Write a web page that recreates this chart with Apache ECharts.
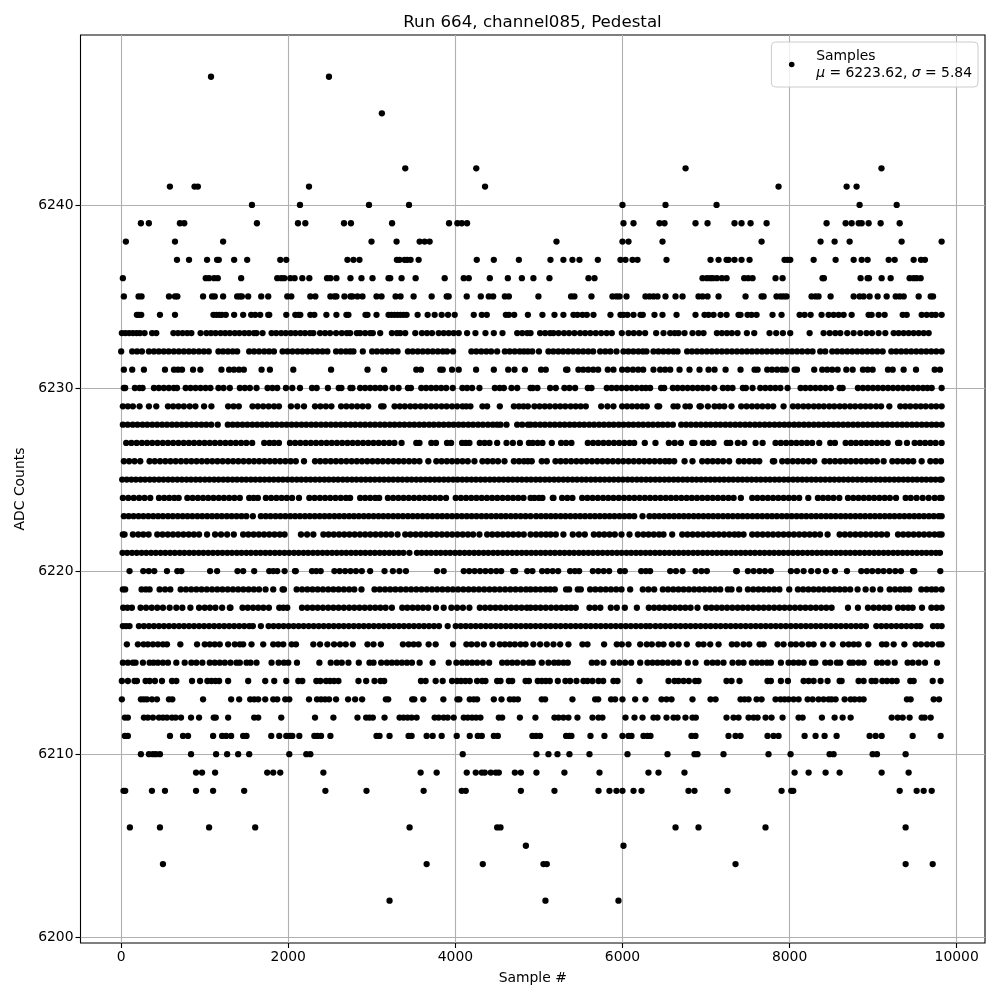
<!DOCTYPE html>
<html><head><meta charset="utf-8">
<script src="https://cdn.jsdelivr.net/npm/echarts@6/dist/echarts.min.js"></script>
<style>html,body{margin:0;padding:0;background:#fff}#c{width:1000px;height:1000px}</style>
</head><body><div id="c"></div>
<script>
const xTicks=[0,2000,4000,6000,8000,10000];
const yTicks=[6200,6210,6220,6230,6240];
const y6247=[1075,2487];
const y6245=[3120];
const y6242=[3400,4250,6755,9100];
const y6241=[583,878,918,2248,4355,7868,8683,8802];
const y6240=[1565,2140,2966,3445,6000,6515,7126,8838,9282];
const y6239=[236,331,703,755,1625,2116,2204,2667,2750,3242,3924,4024,4076,4140,6012,6132,6443,6503,6874,7018,7341,7425,7533,7725,8443,8671,8743,8827,8863,8946,9090,9318];
const y6238=[56,644,1220,2996,3296,3572,3632,3692,5210,6000,6072,6479,7665,8371,8539,8719,9341,9820];
const y6237=[668,812,1028,1148,1168,1352,1508,1904,1976,2708,2780,2852,3300,3332,3392,3424,3464,3560,4256,4460,4760,5138,5293,5401,5485,5705,5976,6036,6120,6180,6527,7054,7150,7246,7270,7341,7425,7521,7940,7976,8008,8288,8551,8767,8863,8934,9186,9258,9485,9573,9620];
const y6236=[20,1012,1052,1112,1156,1436,1868,1916,1952,2024,2076,2168,2252,2464,2504,2576,2744,2876,3008,3200,3220,3356,3524,3872,4100,4160,4412,4628,4796,4934,5126,5593,5665,6958,7010,7050,7082,7130,7190,7246,7457,7505,7557,7832,7916,8395,8411,8850,8934,8950,9102,9210,9437,9485,9521,9569];
const y6235=[32,208,244,572,644,672,980,1088,1120,1220,1388,1420,1444,1520,1676,1760,1988,2036,2264,2324,2504,2552,2576,2672,2744,2768,2828,2888,3056,3116,3284,3344,3500,3716,3896,3920,4136,4304,4400,4452,4592,4640,4994,5385,5425,5629,5880,5928,5964,6048,6275,6323,6371,6419,6515,6635,6719,6910,6958,7018,7150,7473,7665,7689,7844,7892,7928,7964,8263,8311,8347,8491,8767,8838,8886,8958,9054,9162,9270,9318,9366,9545,9689,9717];
const y6234=[188,212,240,464,644,1104,1140,1172,1204,1252,1352,1460,1556,1604,1664,1760,1772,1976,2084,2120,2144,2264,2312,2456,2576,2696,2720,2924,2948,3056,3200,3236,3272,3308,3344,3380,3416,3548,3668,3752,3836,3912,3992,4220,4316,4376,4604,4640,4704,4868,5042,5186,5293,5413,5461,5521,5573,5653,5856,5976,6012,6060,6132,6216,6243,6383,6479,6647,6874,6982,7030,7090,7174,7246,7389,7413,7497,7545,7605,7796,7904,8120,8180,8252,8383,8467,8527,8587,8647,8743,8946,8982,9066,9138,9354,9402,9581,9641,9701,9749,9820];
const y6233=[8,50,95,140,185,225,280,370,420,625,680,735,790,840,950,1020,1075,1130,1190,1245,1300,1360,1415,1475,1530,1590,1620,1692,1800,1855,1915,1970,2030,2085,2145,2200,2260,2300,2380,2440,2500,2572,2640,2700,2740,2820,2860,2920,2980,3012,3100,3240,3300,3340,3400,3520,3600,3660,3720,3800,3860,3920,3980,4040,4140,4240,4360,4460,4564,4740,4800,4860,4900,5014,5074,5134,5174,5235,5300,5360,5425,5493,5553,5615,5680,5745,5810,5872,5992,6072,6135,6200,6271,6403,6491,6571,6625,6671,6743,6838,6910,6970,7130,7190,7250,7309,7377,7489,7577,7760,7840,7920,8008,8240,8407,8480,8547,8607,8690,8767,8846,8920,8986,9066,9146,9246,9305,9365,9425,9485,9545,9605,9665];
const y6232=[0,132,190,248,332,392,450,510,568,630,690,750,810,868,930,990,1048,1164,1220,1278,1335,1388,1532,1590,1650,1712,1770,1828,1932,1990,2050,2112,2170,2230,2290,2350,2410,2468,2572,2630,2690,2740,2780,2892,3004,3062,3125,3185,3245,3308,3432,3490,3550,3610,3670,3730,3790,3850,3900,3972,4192,4250,4310,4370,4428,4500,4592,4650,4710,4770,4820,4868,4920,5000,5114,5172,5232,5290,5350,5410,5470,5530,5590,5649,5733,5795,5855,5928,6012,6070,6130,6190,6245,6287,6371,6430,6490,6550,6610,6659,6774,6832,6892,6950,7010,7070,7130,7190,7250,7310,7370,7430,7490,7550,7610,7670,7730,7790,7850,7910,7970,8030,8090,8150,8215,8275,8367,8427,8511,8570,8630,8690,8750,8810,8870,8930,8990,9050,9114,9218,9276,9336,9396,9456,9516,9576,9636,9696,9756,9820];
const y6231=[32,132,272,524,632,680,728,860,948,1200,1292,1350,1410,1468,1680,1780,2060,2512,2948,3148,3532,3588,3820,3848,3960,4040,4248,4460,4632,4708,4832,5026,5082,5325,5341,5473,5530,5590,5650,5709,5824,5892,5996,6060,6125,6188,6248,6371,6451,6510,6571,6683,6802,6922,7030,7102,7234,7413,7581,7617,7733,7790,7850,7910,7956,8060,8088,8295,8391,8450,8510,8575,8679,8755,8878,8935,8994,9178,9234,9365,9513,9737,9800];
const y6230=[32,48,164,220,256,392,450,510,570,630,668,772,830,890,950,1010,1068,1164,1225,1300,1420,1480,1540,1620,1752,1810,1868,1972,2048,2140,2284,2340,2474,2604,2636,2744,2768,2860,2920,2980,3040,3100,3160,3248,3320,3432,3468,3592,3650,3710,3770,3830,3890,3968,4084,4140,4200,4288,4472,4530,4580,4672,4740,4900,4926,4982,5134,5202,5305,5365,5433,5585,5629,5812,5870,5930,5990,6050,6110,6170,6231,6280,6331,6463,6499,6603,6660,6720,6780,6840,6900,6960,7020,7098,7202,7260,7317,7441,7477,7557,7649,7710,7770,7830,7890,7976,8132,8190,8250,8310,8370,8431,8495,8599,8635,8818,8878,8938,8998,9058,9118,9178,9238,9298,9358,9418,9478,9538,9598,9650,9701,9820];
const y6229=[20,80,140,220,332,420,560,622,685,750,820,888,992,1080,1280,1345,1408,1572,1635,1700,1765,1830,1888,2032,2108,2188,2320,2385,2450,2516,2632,2695,2760,2825,2890,2956,3112,3140,3272,3335,3395,3460,3520,3585,3645,3710,3770,3835,3895,3960,4020,4085,4130,4180,4324,4380,4532,4700,4760,4815,4868,4946,5008,5070,5130,5195,5255,5315,5380,5440,5500,5561,5745,5820,5892,5996,6055,6115,6175,6235,6291,6419,6439,6611,6659,6754,6806,6922,6938,7022,7102,7160,7218,7305,7421,7485,7550,7612,7675,7740,7804,7928,8040,8100,8165,8225,8290,8350,8410,8475,8535,8600,8660,8725,8785,8850,8910,8970,9035,9095,9194,9325,9385,9445,9510,9570,9630,9695,9755,9820];
const y6228=[20,78,138,195,255,312,372,430,490,548,608,665,725,782,842,900,960,1018,1078,1156,1276,1335,1392,1452,1510,1570,1628,1688,1745,1805,1862,1922,1980,2040,2098,2158,2215,2275,2332,2392,2450,2510,2568,2628,2685,2745,2802,2862,2920,2980,3038,3098,3155,3215,3272,3332,3390,3450,3508,3568,3625,3685,3742,3802,3860,3920,3978,4038,4095,4155,4212,4272,4330,4390,4448,4500,4540,4612,4740,4800,4868,4900,4955,5015,5072,5132,5190,5250,5308,5368,5425,5485,5542,5602,5660,5720,5778,5838,5895,5955,6012,6072,6130,6190,6248,6308,6365,6425,6482,6542,6603,6703,6762,6820,6880,6938,6998,7055,7115,7172,7232,7290,7350,7408,7468,7525,7585,7642,7702,7760,7820,7878,7938,7995,8055,8112,8172,8230,8290,8348,8408,8465,8525,8582,8642,8700,8760,8818,8878,8935,8995,9052,9112,9170,9230,9288,9348,9405,9465,9522,9582,9640,9700,9758,9820];
const y6227=[60,122,185,248,310,372,435,498,560,622,685,748,810,872,935,998,1060,1122,1185,1248,1310,1372,1435,1498,1568,1712,1775,1830,1888,2020,2082,2145,2208,2270,2332,2395,2458,2520,2582,2645,2708,2770,2832,2895,2958,3020,3082,3145,3208,3270,3356,3532,3570,3712,3768,3900,3948,4080,4125,4168,4292,4350,4408,4500,4612,4688,4772,4880,4926,4985,5042,5154,5265,5325,5389,5585,5648,5710,5772,5835,5898,5960,6022,6085,6140,6267,6395,6555,6625,6699,6834,6860,6962,7025,7090,7249,7290,7381,7457,7593,7677,7832,7895,7958,8020,8082,8145,8208,8270,8355,8487,8543,8671,8735,8795,8858,8920,8982,9045,9108,9174,9298,9314,9405,9497,9560,9622,9685,9748,9820];
const y6226=[32,95,160,228,340,402,465,528,590,652,715,778,840,902,965,1028,1090,1152,1215,1278,1340,1402,1465,1528,1590,1652,1715,1778,1840,1902,1965,2028,2090,2188,2320,2382,2445,2508,2570,2632,2695,2758,2820,2882,2945,3008,3070,3132,3195,3258,3320,3382,3445,3508,3570,3676,3772,3835,3898,3960,4022,4085,4148,4228,4324,4385,4448,4510,4588,4700,4762,4820,4868,4914,5034,5094,5198,5260,5322,5385,5448,5510,5572,5635,5698,5760,5822,5885,5948,6010,6072,6135,6198,6260,6322,6385,6448,6510,6560,6619,6743,6838,6954,7018,7080,7142,7205,7277,7393,7455,7518,7580,7637,7800,7816,7912,7975,8038,8100,8162,8225,8295,8419,8482,8545,8608,8670,8732,8795,8858,8920,8982,9045,9126,9230,9292,9355,9418,9480,9581,9685,9750,9812];
const y6225=[12,66,122,176,232,286,342,396,452,506,562,616,672,726,782,836,892,946,1002,1056,1112,1166,1222,1276,1332,1386,1442,1496,1552,1606,1662,1716,1772,1826,1882,1936,1992,2046,2102,2156,2212,2266,2322,2376,2432,2486,2542,2596,2652,2706,2762,2816,2872,2926,2982,3036,3092,3146,3202,3256,3312,3366,3422,3476,3532,3586,3642,3696,3752,3806,3862,3916,3972,4026,4082,4136,4192,4246,4302,4356,4412,4466,4522,4576,4632,4686,4742,4796,4852,4906,4962,5016,5072,5126,5182,5236,5292,5346,5402,5456,5512,5566,5622,5676,5732,5786,5842,5896,5952,6006,6062,6116,6172,6226,6282,6336,6392,6446,6502,6556,6612,6666,6722,6776,6832,6886,6942,6996,7052,7106,7162,7216,7272,7326,7382,7436,7492,7546,7602,7656,7712,7766,7822,7876,7932,7986,8042,8096,8152,8206,8262,8316,8372,8426,8482,8536,8592,8646,8702,8756,8812,8866,8922,8976,9032,9086,9142,9196,9252,9306,9362,9416,9472,9526,9582,9636,9692,9746,9800,9820];
const y6224=[20,85,150,215,280,348,452,515,575,635,688,792,855,918,980,1042,1105,1168,1230,1292,1355,1420,1532,1585,1636,1732,1795,1858,1920,1982,2045,2128,2252,2315,2378,2440,2502,2565,2628,2690,2740,2860,2920,2980,3040,3088,3192,3255,3318,3380,3442,3505,3568,3630,3692,3755,3818,3888,4004,4066,4128,4190,4252,4315,4378,4440,4502,4565,4628,4690,4752,4815,4900,4946,5000,5042,5166,5174,5277,5340,5401,5517,5580,5642,5705,5768,5830,5892,5955,6018,6080,6142,6205,6268,6330,6392,6455,6518,6580,6642,6705,6768,6830,6892,6955,7018,7080,7142,7205,7268,7330,7417,7553,7615,7678,7740,7802,7865,7928,7990,8052,8115,8224,8339,8400,8462,8525,8595,8699,8762,8825,8888,8950,9012,9075,9138,9200,9274,9389,9450,9520,9593,9665,9737,9800,9820];
const y6223=[32,90,148,208,266,325,384,442,500,560,618,677,736,794,852,912,970,1029,1088,1146,1204,1264,1322,1381,1440,1498,1576,1672,1730,1788,1848,1906,1965,2024,2082,2140,2200,2258,2317,2376,2434,2492,2552,2610,2669,2728,2786,2844,2904,2962,3021,3080,3138,3196,3256,3314,3373,3432,3490,3548,3608,3666,3725,3784,3842,3900,3960,4018,4077,4136,4194,4252,4312,4370,4429,4488,4546,4604,4664,4722,4781,4840,4900,4966,5025,5084,5142,5200,5260,5318,5377,5436,5494,5552,5612,5670,5729,5788,5846,5904,5964,6022,6081,6140,6240,6323,6382,6440,6500,6558,6617,6676,6734,6792,6852,6910,6969,7028,7086,7144,7204,7262,7321,7380,7438,7496,7556,7614,7673,7732,7790,7848,7908,7966,8025,8084,8142,8200,8260,8318,8377,8436,8494,8552,8612,8670,8729,8788,8846,8904,8964,9022,9081,9140,9198,9256,9316,9374,9433,9492,9550,9608,9668,9726,9785,9820];
const y6222=[20,40,140,205,265,328,432,495,558,620,682,745,808,870,932,1028,1124,1195,1268,1348,1460,1522,1585,1648,1710,1772,1835,1898,1956,2152,2225,2300,2420,2482,2545,2608,2670,2732,2795,2858,2920,2982,3045,3108,3170,3232,3308,3400,3462,3525,3588,3650,3712,3775,3838,3900,3962,4025,4088,4150,4212,4288,4380,4442,4505,4568,4630,4692,4755,4818,4900,4965,5025,5085,5140,5202,5293,5405,5478,5549,5657,5720,5782,5845,5908,5988,6084,6184,6250,6312,6375,6438,6491,6595,6715,6778,6840,6902,6965,7028,7090,7152,7215,7278,7340,7390,7449,7553,7615,7678,7740,7802,7865,7928,7990,8052,8115,8178,8240,8302,8365,8455,8599,8662,8725,8788,8850,8912,8975,9038,9100,9166,9298,9360,9422,9485,9548,9610,9672,9735,9790,9820];
const y6221=[16,72,130,186,244,300,358,414,472,528,586,642,700,756,814,870,928,984,1042,1098,1156,1212,1270,1326,1384,1440,1498,1554,1612,1668,1726,1782,1840,1896,1954,2010,2068,2124,2182,2238,2296,2352,2410,2466,2524,2580,2638,2694,2752,2808,2866,2922,2980,3036,3094,3150,3208,3264,3322,3378,3450,3540,3596,3654,3710,3768,3824,3882,3938,3996,4052,4110,4166,4224,4280,4338,4394,4452,4508,4566,4622,4680,4736,4794,4850,4908,4964,5022,5078,5136,5192,5250,5306,5364,5420,5478,5534,5592,5648,5706,5762,5820,5876,5934,5990,6048,6104,6162,6218,6276,6332,6390,6446,6504,6560,6618,6674,6732,6788,6846,6902,6960,7016,7074,7130,7188,7244,7302,7358,7416,7472,7530,7586,7644,7700,7758,7814,7872,7928,7986,8042,8100,8156,8214,8270,8328,8384,8442,8498,8556,8612,8670,8726,8784,8840,8898,8954,9012,9068,9126,9182,9240,9296,9354,9410,9468,9524,9582,9638,9696,9752,9800];
const y6220=[100,264,330,396,548,672,720,1064,1148,1392,1460,1592,1772,1820,1868,1956,2080,2090,2284,2335,2388,2552,2615,2680,2745,2810,2880,2980,3152,3252,3330,3408,3780,3860,4100,4165,4230,4295,4360,4425,4490,4548,4692,4716,4860,4922,5038,5100,5165,5230,5373,5430,5481,5645,5710,5775,5840,5972,6028,6224,6280,6331,6571,6640,6719,6874,6945,7010,7361,7369,7501,7570,7640,7705,7776,8016,8088,8168,8259,8340,8435,8543,8687,8858,8925,8990,9060,9125,9195,9265,9333,9477,9493,9804];
const y6219=[20,48,244,295,340,460,525,588,712,775,838,900,962,1025,1088,1150,1212,1275,1338,1400,1462,1525,1588,1650,1728,1820,1932,1948,2100,2165,2228,2290,2352,2415,2478,2540,2602,2665,2728,2790,2876,3032,3095,3158,3220,3282,3345,3408,3470,3532,3595,3658,3720,3782,3845,3908,3970,4032,4095,4158,4220,4282,4345,4408,4470,4532,4595,4658,4720,4782,4845,4900,4960,5020,5080,5135,5190,5325,5361,5465,5501,5613,5675,5738,5800,5862,5925,5988,6092,6243,6310,6379,6483,6545,6608,6670,6732,6795,6858,6920,6982,7045,7108,7170,7261,7305,7397,7501,7565,7628,7690,7752,7815,7878,7996,8100,8162,8225,8288,8350,8412,8475,8538,8600,8662,8725,8814,8910,8995,9086,9198,9262,9325,9380,9433,9577,9640,9700,9752,9820];
const y6218=[24,75,128,232,298,365,432,500,580,660,732,828,932,1000,1062,1128,1208,1300,1308,1452,1515,1578,1640,1702,1768,1892,1940,1988,2164,2228,2290,2352,2415,2478,2540,2602,2665,2728,2790,2852,2915,2978,3040,3102,3165,3240,3364,3425,3488,3550,3612,3675,3768,3860,3952,4020,4090,4168,4292,4355,4418,4480,4542,4605,4668,4730,4792,4855,4900,4960,5020,5082,5145,5208,5270,5330,5385,5441,5605,5670,5735,5860,5932,6028,6172,6315,6378,6440,6502,6565,6628,6690,6752,6815,6898,7002,7065,7128,7190,7252,7315,7378,7440,7502,7565,7628,7690,7752,7815,7878,7940,8002,8065,8128,8190,8252,8315,8378,8440,8503,8699,8818,8938,9005,9070,9135,9194,9298,9360,9420,9473,9585,9697,9760,9820];
const y6217=[20,60,100,212,272,332,392,452,512,572,632,692,752,812,872,932,992,1052,1112,1172,1232,1292,1352,1412,1472,1532,1576,1672,1764,1824,1884,1944,2004,2064,2124,2184,2244,2304,2364,2424,2484,2544,2604,2664,2724,2784,2844,2904,2964,3024,3084,3144,3204,3264,3324,3384,3444,3504,3564,3624,3684,3744,3804,3908,4004,4064,4124,4184,4244,4304,4364,4424,4484,4544,4604,4664,4724,4784,4844,4900,4960,5020,5080,5140,5200,5260,5320,5380,5440,5500,5560,5620,5680,5740,5800,5860,5920,5980,6040,6100,6160,6220,6280,6331,6395,6455,6515,6575,6635,6695,6755,6815,6875,6935,6995,7055,7115,7175,7235,7295,7355,7415,7475,7535,7595,7655,7715,7775,7835,7895,7955,8015,8075,8135,8195,8255,8315,8375,8435,8495,8555,8615,8675,8735,8795,8855,8914,9038,9098,9158,9218,9278,9338,9398,9458,9518,9565,9717,9770,9820];
const y6216=[68,200,268,320,380,440,500,548,708,908,1000,1060,1120,1180,1280,1360,1420,1460,1560,1700,1820,1880,1940,2040,2092,2300,2380,2468,2548,2620,2688,2772,2948,3020,3108,3372,3440,3500,3560,3680,3764,3972,4132,4192,4260,4340,4444,4532,4592,4652,4712,4780,4840,4934,5014,5094,5174,5254,5353,5521,5581,5780,5932,5992,6072,6212,6291,6351,6431,6491,6591,6671,6770,6910,6970,7050,7150,7309,7369,7449,7517,7641,7689,7856,7928,8016,8076,8148,8228,8288,8403,8515,8639,8707,8767,8826,8942,9106,9158,9246,9374,9509,9573,9645,9709,9785,9820];
const y6215=[20,80,140,172,260,340,388,440,500,560,660,760,840,900,972,1060,1120,1180,1240,1308,1380,1420,1500,1548,1620,1800,1884,1948,2000,2104,2372,2508,2580,2640,2720,2844,2972,3020,3112,3180,3240,3300,3360,3420,3480,3572,3728,3920,4012,4080,4140,4200,4260,4328,4404,4560,4620,4680,4740,4812,4880,4926,5034,5114,5182,5234,5293,5345,5633,5693,5772,5892,5964,6032,6104,6212,6299,6359,6419,6479,6543,6611,6675,6782,6874,7010,7078,7138,7209,7317,7389,7449,7549,7609,7669,7729,7776,7896,7988,8048,8108,8168,8268,8308,8427,8487,8567,8607,8719,8759,8826,8886,9046,9106,9174,9258,9413,9473,9545,9621,9765];
const y6214=[8,80,160,188,292,340,404,488,608,660,848,944,1032,1080,1128,1172,1280,1520,1724,1832,1976,2120,2168,2336,2384,2452,2500,2548,2600,2840,2932,3032,3104,3148,3588,3644,3764,3848,3960,4020,4068,4120,4172,4260,4320,4360,4500,4540,4640,4680,4840,4880,4986,5034,5082,5130,5226,5317,5373,5449,5533,5581,5641,5713,5769,5892,5940,6204,6551,6623,6671,6731,6794,6870,6910,7245,7305,7401,7736,7776,7896,7980,8168,8228,8288,8371,8455,8599,8623,8826,8886,8982,9030,9110,9166,9226,9282,9445,9485,9713,9808];
const y6213=[8,236,272,308,368,428,572,612,980,1316,1412,1544,1592,1640,1724,1820,1868,1964,2012,2248,2344,2392,2440,2488,2572,2716,2800,2884,3168,3196,3484,3508,3616,3856,4024,4048,4172,4220,4260,4460,4552,4652,4700,4748,5034,5074,5401,5673,5709,5864,5912,6000,6152,6275,6467,6527,6587,6838,7054,7114,7413,7461,7509,7605,7665,7832,7892,7940,7988,8048,8108,8216,8276,8347,8407,8467,8503,8551,8659,8731,8779,8838,8886,9405,9449,9725,9789];
const y6212=[44,80,272,320,380,452,500,548,608,652,716,836,932,1108,1132,1280,1592,1640,1916,2320,2540,2828,2932,2972,3012,3152,3332,3380,3428,3476,3536,3752,3800,3860,3908,3980,4100,4148,4200,4248,4300,4520,4560,4772,4958,5186,5234,5293,5353,5461,5641,5713,5760,6036,6144,6240,6371,6419,6527,6611,6659,6754,6838,6878,7245,7329,7389,7509,7569,7617,7713,7784,7916,8108,8156,8387,8539,8635,8731,9222,9294,9354,9437,9581,9617,9689];
const y6211=[44,80,584,740,800,1100,1208,1256,1316,1460,1500,1796,1892,1976,2024,2048,2132,2312,2348,2392,2504,3056,3092,3212,3440,3476,3656,3728,3836,4016,4172,4268,4316,4460,4508,4922,4966,5014,5325,5365,5389,5617,5784,6000,6072,6108,6251,6299,6335,6826,6874,7269,7353,7413,7736,7808,7868,8180,8311,8419,8563,8958,9030,9102,9473,9808];
const y6210=[236,332,380,416,464,836,1136,1268,1400,1532,2012,2216,2264,4088,4970,5114,5222,5365,5605,6060,6539,6862,6898,7209,7748,8012,8479,8527,8994,9046,9389];
const y6209=[896,968,1124,1748,1820,1904,2420,3584,3776,4136,4244,4316,4352,4424,4484,4520,4712,4784,4970,5305,5725,6311,6431,6742,8060,8228,8431,8599,9102,9425];
const y6208=[28,48,368,524,896,1100,1472,2444,2936,3620,4076,4124,4784,5186,5713,5844,5928,6000,6132,6228,6790,6862,7257,7904,8020,8044,9318,9521,9605,9701];
const y6206=[104,464,1052,1604,3452,4500,4540,6635,6910,7712,9389];
const y6205=[4844,6012];
const y6204=[500,3656,4328,5054,5094,7353,9389,9713];
const y6202=[3212,5078,5952];

const rows=[[6247,y6247],[6245,y6245],[6242,y6242],[6241,y6241],[6240,y6240],[6239,y6239],[6238,y6238],[6237,y6237],[6236,y6236],[6235,y6235],[6234,y6234],[6233,y6233],[6232,y6232],[6231,y6231],[6230,y6230],[6229,y6229],[6228,y6228],[6227,y6227],[6226,y6226],[6225,y6225],[6224,y6224],[6223,y6223],[6222,y6222],[6221,y6221],[6220,y6220],[6219,y6219],[6218,y6218],[6217,y6217],[6216,y6216],[6215,y6215],[6214,y6214],[6213,y6213],[6212,y6212],[6211,y6211],[6210,y6210],[6209,y6209],[6208,y6208],[6206,y6206],[6205,y6205],[6204,y6204],[6202,y6202]];
const points=[];
rows.forEach(([v,xs])=>xs.forEach(x=>points.push([x,v])));

const FF='"DejaVu Sans"';
const chart=echarts.init(document.getElementById('c'),null,{renderer:'canvas'});
const axisCommon={
  axisLine:{show:false,onZero:false},
  splitLine:{show:true,lineStyle:{color:'#b0b0b0',width:1.1}},
  nameLocation:'middle',
  nameTextStyle:{fontFamily:FF,fontSize:13.9,color:'#000'}
};
const tickStyle={show:true,length:5,inside:false,lineStyle:{color:'#000',width:1.1}};
const labelStyle={fontFamily:FF,fontSize:13.9,color:'#000',margin:7,formatter:v=>String(v)};
chart.setOption({
  animation:false,
  backgroundColor:'#fff',
  title:{text:'Run 664, channel085, Pedestal',left:527.5,top:9,textAlign:'center',
    textStyle:{fontFamily:FF,fontSize:16.67,fontWeight:'normal',color:'#000'}},
  grid:{left:80.5,top:35,width:904.5,height:908,show:true,borderColor:'#000',borderWidth:1.1,backgroundColor:'transparent',containLabel:false},
  xAxis:Object.assign({},axisCommon,{type:'value',min:-487,max:10339,name:'Sample #',nameGap:28,
    axisTick:Object.assign({},tickStyle,{customValues:xTicks}),
    axisLabel:Object.assign({},labelStyle,{customValues:xTicks})}),
  yAxis:Object.assign({},axisCommon,{type:'value',min:6199.69,max:6249.28,name:'ADC Counts',nameGap:52,
    axisTick:Object.assign({},tickStyle,{customValues:yTicks}),
    axisLabel:Object.assign({},labelStyle,{customValues:yTicks})}),
  legend:{show:true,right:22,top:42,orient:'vertical',padding:[5.5,6,5.5,17.5],
    backgroundColor:'rgba(255,255,255,0.8)',borderColor:'#cccccc',borderWidth:1,borderRadius:4,
    itemWidth:28,itemHeight:5.6,itemGap:0,icon:'circle',
    data:[{name:'Samples',itemStyle:{color:'#000'}}],
    formatter:()=>'Samples\n{i|\u03bc} = 6223.62, {i|\u03c3} = 5.84',
    textStyle:{fontFamily:FF,fontSize:13.9,color:'#000',lineHeight:17,padding:[0,0,0,5.5],rich:{i:{fontFamily:FF,fontStyle:'italic',fontSize:13.9,color:'#000',lineHeight:17}}}
  },
  series:[{name:'Samples',type:'scatter',data:points,symbol:'circle',symbolSize:6.3,
    itemStyle:{color:'#000',opacity:1},large:false,silent:true,z:3,clip:true}]
});
</script></body></html>
